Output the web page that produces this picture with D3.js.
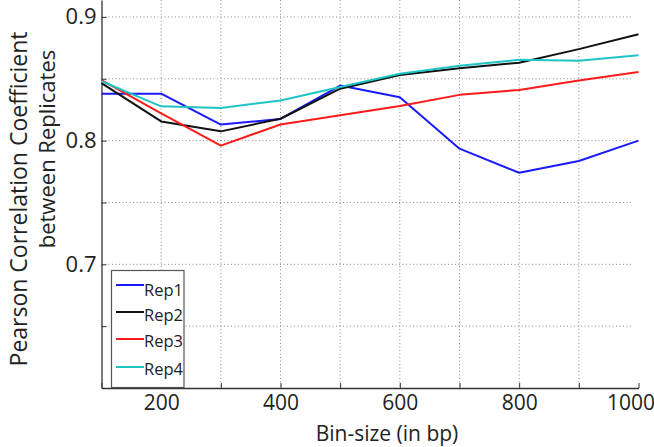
<!DOCTYPE html>
<html><head><meta charset="utf-8">
<script src="https://cdn.jsdelivr.net/npm/d3@7"></script>
<style>
html,body{margin:0;padding:0;background:#fff;}
svg text{font-family:"Open Sans",sans-serif;fill:#222;}
</style></head>
<body><svg id="c" width="654" height="447"></svg>
<script>
const binSizes = [100,200,300,400,500,600,700,800,900,1000];
const rep1 = [0.838,0.838,0.813,0.8175,0.8445,0.835,0.7935,0.774,0.7835,0.800];
const rep2 = [0.8465,0.8155,0.8075,0.8177,0.842,0.853,0.8585,0.863,0.874,0.886];
const rep3 = [0.849,0.822,0.796,0.813,0.8205,0.828,0.837,0.841,0.8487,0.8554];
const rep4 = [0.848,0.8277,0.8264,0.8325,0.8433,0.854,0.8605,0.8653,0.8645,0.869];
const seriesNames = ["Rep1","Rep2","Rep3","Rep4"];
const seriesColors = ["#1a1aff","#111111","#ff1a1a","#1fc4c4"];
const xTickLabels = [200,400,600,800,1000];
const yTickLabels = [0.7,0.8,0.9];
const xGrid = [200,300,400,500,600,700,800,900];
const yGrid = [0.65,0.7,0.75,0.8,0.85,0.9];

const svg = d3.select("#c");
const x = d3.scaleLinear().domain([100,1000]).range([101.5,638.5]);
const y = d3.scaleLinear().domain([0.6,0.9137]).range([388,0]);

// grid
svg.append("g").selectAll("line").data(xGrid).join("line")
  .attr("x1",d=>x(d)).attr("x2",d=>x(d)).attr("y1",0).attr("y2",388)
  .attr("stroke","#8a8a8a").attr("stroke-width",1).attr("stroke-dasharray","1,2.5");
svg.append("g").selectAll("line").data(yGrid).join("line")
  .attr("x1",x(100)).attr("x2",632).attr("y1",d=>y(d)).attr("y2",d=>y(d))
  .attr("stroke","#8a8a8a").attr("stroke-width",1).attr("stroke-dasharray","1,2.5");

// axes
const xAxis = d3.axisBottom(x).tickValues(d3.range(100,1001,100)).tickSizeInner(-5).tickSizeOuter(0)
  .tickFormat(d=> xTickLabels.includes(d) ? d : "");
const gx = svg.append("g").attr("transform","translate(0,388)").call(xAxis);
gx.select(".domain").attr("stroke","#333").attr("stroke-width",1.3);
gx.selectAll(".tick line").attr("stroke","#333");
gx.selectAll(".tick text").attr("font-size",21).attr("font-family","Open Sans").attr("fill","#222").attr("dy","0.9em")
  .attr("dx",d=> d===1000 ? -8 : 0);

const yAxis = d3.axisLeft(y).tickValues([0.65,0.7,0.75,0.8,0.85,0.9]).tickSizeInner(-5).tickSizeOuter(0)
  .tickFormat(d=> yTickLabels.some(v=>Math.abs(v-d)<1e-9) ? d3.format(".1f")(d) : "");
const gy = svg.append("g").attr("transform","translate(101.5,0)").call(yAxis);
gy.select(".domain").attr("stroke","#333").attr("stroke-width",1.3);
gy.selectAll(".tick line").attr("stroke","#333");
gy.selectAll(".tick text").attr("font-size",22).attr("font-family","Open Sans").attr("fill","#222").attr("x",-5);

// lines
const allSeries = [rep1,rep2,rep3,rep4];
const line = d3.line().x((d,i)=>x(binSizes[i])).y(d=>y(d));
svg.append("g").selectAll("path").data(allSeries).join("path")
  .attr("d",line).attr("fill","none")
  .attr("stroke",(d,i)=>seriesColors[i]).attr("stroke-width",2).attr("stroke-linejoin","round");

// legend
const lg = svg.append("g");
lg.append("rect").attr("x",111.5).attr("y",270.5).attr("width",72.5).attr("height",117)
  .attr("fill","#fff").attr("stroke","#555").attr("stroke-width",1.2);
const legLineY = [285,312,339,367];
const legTextY = [296,321,347,375];
seriesNames.forEach((n,i)=>{
  lg.append("line").attr("x1",116).attr("x2",144).attr("y1",legLineY[i]).attr("y2",legLineY[i])
    .attr("stroke",seriesColors[i]).attr("stroke-width",2);
  lg.append("text").attr("x",144).attr("y",legTextY[i]).attr("font-size",16.5).text(n);
});

// axis titles
svg.append("text").attr("x",387).attr("y",441).attr("text-anchor","middle").attr("font-size",21).text("Bin-size (in bp)");
svg.append("text").attr("transform","translate(27,199) rotate(-90)").attr("text-anchor","middle").attr("font-size",23)
  .text("Pearson Correlation Coefficient");
svg.append("text").attr("transform","translate(55,149) rotate(-90)").attr("text-anchor","middle").attr("font-size",22)
  .text("between Replicates");
</script></body></html>
